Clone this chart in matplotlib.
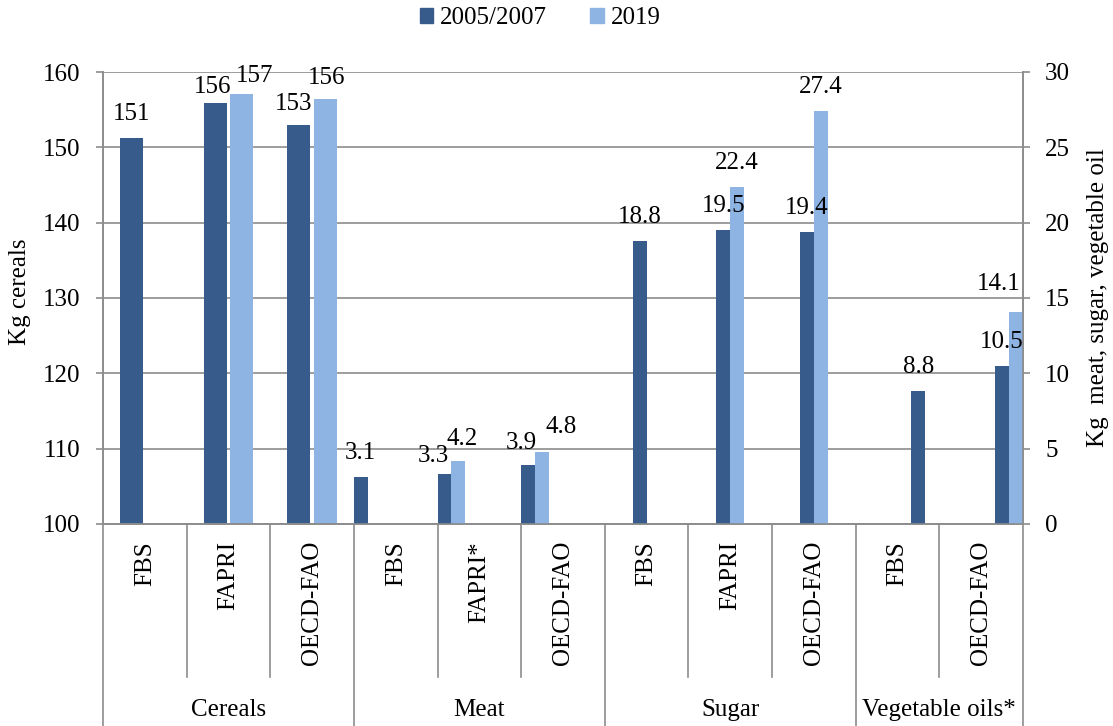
import numpy as np
import matplotlib.pyplot as plt
from matplotlib.patches import Patch
from matplotlib.transforms import blended_transform_factory

plt.rcParams['font.family'] = ['Liberation Serif', 'DejaVu Serif']
plt.rcParams['font.size'] = 18

# categories
sub_labels = ['FBS', 'FAPRI', 'OECD-FAO', 'FBS', 'FAPRI*', 'OECD-FAO',
              'FBS', 'FAPRI', 'OECD-FAO', 'FBS', 'OECD-FAO']
groups = ['Cereals', 'Meat', 'Sugar', 'Vegetable oils*']
group_size = [3, 3, 3, 2]
series_names = ['2005/2007', '2019']

# values (kg per capita)
cereals_0507 = [151.3, 155.9, 152.9]
cereals_2019 = [np.nan, 157.1, 156.4]
meat_0507 = [3.1, 3.3, 3.9]
meat_2019 = [np.nan, 4.2, 4.8]
sugar_0507 = [18.8, 19.5, 19.4]
sugar_2019 = [np.nan, 22.4, 27.4]
oil_0507 = [8.8, 10.5]
oil_2019 = [np.nan, 14.1]

dark = '#375b8a'
light = '#8eb4e3'
grid_c = '#8c8c8c'

fig = plt.figure(figsize=(11.13, 7.26), dpi=100)
ax = fig.add_axes([103/1113, 1-524/726, 920/1113, 452/726])
ax2 = ax.twinx()

# category index for each group
starts = np.cumsum([0] + group_size[:-1])
pos = [list(range(s, s + n)) for s, n in zip(starts, group_size)]


def draw(a, x, vals, off, w, color, fmt, nudge):
    xs = np.array(x) + off
    a.bar(xs, vals, w, color=color, zorder=2)
    for xi, v, (dx, dy) in zip(xs, vals, nudge):
        if np.isnan(v):
            continue
        a.annotate(fmt.format(v), (xi, v), xytext=(dx, 24 + dy),
                   textcoords='offset pixels', ha='center', va='center')


w6 = 1/6
draw(ax, pos[0], cereals_0507, -0.16, 0.275, dark, '{:.0f}', [(0, 0), (-2, -8), (-5, -3)])
draw(ax, pos[0], cereals_2019, 0.16, 0.275, light, '{:.0f}', [(0, 0), (13, -6), (1, -3)])
draw(ax2, pos[1], meat_0507, -0.5 + w6/2, w6, dark, '{:.1f}', [(-1, 0), (-11, -6), (-7, -2)])
draw(ax2, pos[1], meat_2019, -0.5 + 1.5*w6, w6, light, '{:.1f}', [(0, 0), (4, -2), (19, 1)])
draw(ax2, pos[2], sugar_0507, -w6/2, w6, dark, '{:.1f}', [(0, 0), (0, 0), (0, 0)])
draw(ax2, pos[2], sugar_2019, w6/2, w6, light, '{:.1f}', [(0, 0), (0, 0), (0, 0)])
draw(ax2, pos[3], oil_0507, 1.5*w6, w6, dark, '{:.1f}', [(0, 0), (0, 0)])
draw(ax2, pos[3], oil_2019, 2.5*w6, w6, light, '{:.1f}', [(0, 0), (-17, 4)])

ax.set_xlim(-0.5, len(sub_labels) - 0.5)
ax.set_ylim(100, 160)
ax.set_yticks(range(100, 161, 10))
ax2.set_ylim(0, 30)
ax2.set_yticks(range(0, 31, 5))

ax.yaxis.grid(True, color=grid_c, lw=1.2)
ax.set_axisbelow(True)
for a in (ax, ax2):
    a.spines['top'].set_visible(False)
    for s in ('left', 'right', 'bottom'):
        a.spines[s].set_color(grid_c)
        a.spines[s].set_linewidth(1.2)
    a.tick_params(axis='x', bottom=False, labelbottom=False)
ax.tick_params(axis='y', length=5, width=1.2, color=grid_c, pad=11)
ax2.tick_params(axis='y', length=5, width=1.2, color=grid_c, pad=11)

fig.text(20/1113, 1-292/726, 'Kg cereals', rotation=90, ha='center', va='center')
fig.text(1098/1113, 1-298/726, 'Kg  meat, sugar, vegetable oil', rotation=90,
         ha='center', va='center')

# multi-level category axis
tr = blended_transform_factory(ax.transData, fig.transFigure)
y_axis = 1 - 524/726
y_sub = 1 - 677/726
for i, lab in enumerate(sub_labels):
    fig.text(i, 1 - 541/726, lab, rotation=90, ha='center', va='top', transform=tr)
bounds = [s - 0.5 for s in starts] + [len(sub_labels) - 0.5]
for b in np.arange(-0.5, len(sub_labels), 1.0):
    bottom = 0 if b in bounds else y_sub
    ax.plot([b, b], [y_axis, bottom], color=grid_c, lw=1.2, transform=tr, clip_on=False)
for g, s, n in zip(groups, starts, group_size):
    fig.text(s + (n - 1)/2, 1 - 710/726, g, ha='center', va='center', transform=tr)

fig.legend(handles=[Patch(color=dark), Patch(color=light)], labels=series_names,
           loc='center', bbox_to_anchor=(540/1113, 1 - 18/726), ncol=2, frameon=False,
           handlelength=0.55, handleheight=0.55, handletextpad=0.25, columnspacing=1.75)

fig.savefig('out.png', dpi=100)
